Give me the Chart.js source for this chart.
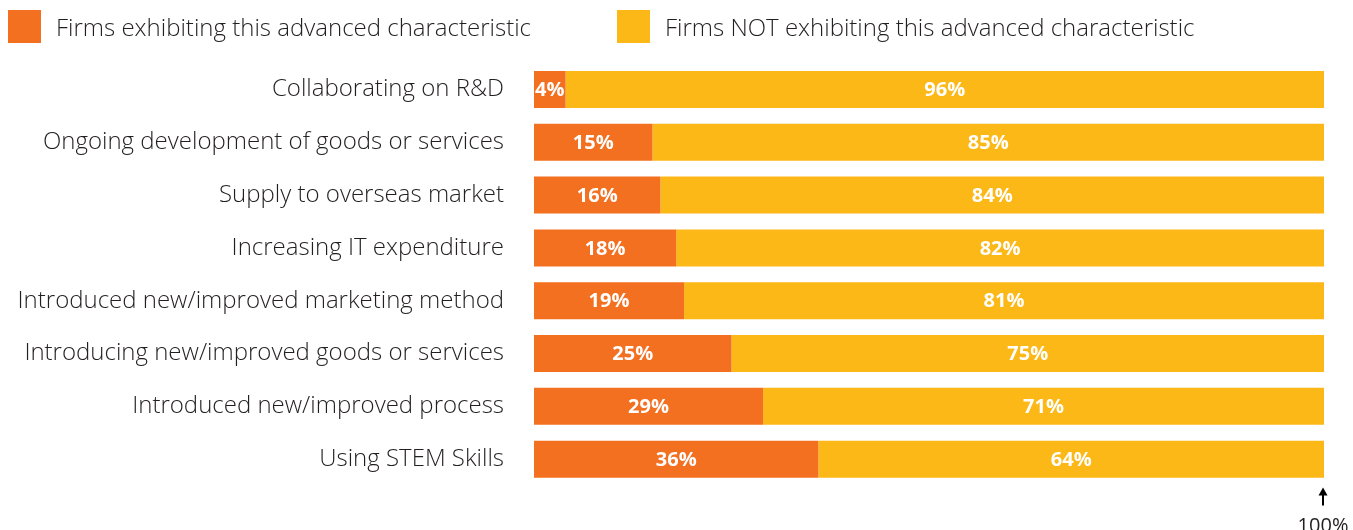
<!DOCTYPE html>
<html>
<head>
<meta charset="utf-8">
<script src="https://cdn.jsdelivr.net/npm/chart.js@4"></script>
<style>
  html, body { margin: 0; padding: 0; background: #fff; }
  #wrap { width: 1353px; height: 530px; }
</style>
</head>
<body>
<div id="wrap"><canvas id="chart" width="1353" height="530"></canvas></div>
<script>
// categories and values
var categories = [
  "Collaborating on R&D",
  "Ongoing development of goods or services",
  "Supply to overseas market",
  "Increasing IT expenditure",
  "Introduced new/improved marketing method",
  "Introducing new/improved goods or services",
  "Introduced new/improved process",
  "Using STEM Skills"
];
var exhibiting = [4, 15, 16, 18, 19, 25, 29, 36];
var notExhibiting = [96, 85, 84, 82, 81, 75, 71, 64];
var seriesNames = ["Firms exhibiting this advanced characteristic", "Firms NOT exhibiting this advanced characteristic"];
var endLabel = "100%";

var ORANGE = "#F37021";
var YELLOW = "#FBB817";
var TEXT = "#231F20";
var LABEL_FONT = "'Open Sans'";

// legend drawn by hand so the boxes sit where the original has them
var topLegend = {
  id: "topLegend",
  afterDraw: function (chart) {
    var ctx = chart.ctx;
    var xs = [8, 617];
    ctx.save();
    ctx.font = "300 24px " + LABEL_FONT;
    ctx.textBaseline = "middle";
    ctx.textAlign = "left";
    chart.data.datasets.forEach(function (ds, i) {
      ctx.fillStyle = ds.backgroundColor;
      ctx.fillRect(xs[i], 10, 33, 33);
      ctx.fillStyle = TEXT;
      ctx.fillText(ds.label, xs[i] + 48, 29);
    });
    ctx.restore();
  }
};

// white % labels in the middle of each bar
var barLabels = {
  id: "barLabels",
  afterDatasetsDraw: function (chart) {
    var ctx = chart.ctx;
    ctx.save();
    ctx.fillStyle = "#fff";
    ctx.font = "bold 20px " + LABEL_FONT;
    ctx.textAlign = "center";
    ctx.textBaseline = "middle";
    chart.data.datasets.forEach(function (ds, i) {
      chart.getDatasetMeta(i).data.forEach(function (bar, j) {
        var c = bar.getCenterPoint();
        ctx.fillText(ds.data[j] + "%", c.x, c.y + 1);
      });
    });
    ctx.restore();
  }
};

// arrow + 100% under the end of the scale
var endMarker = {
  id: "endMarker",
  afterDraw: function (chart) {
    var ctx = chart.ctx;
    var x = chart.scales.x.getPixelForValue(100) - 1;
    var y0 = chart.chartArea.bottom;
    ctx.save();
    ctx.strokeStyle = "#000";
    ctx.fillStyle = "#000";
    ctx.lineWidth = 2;
    ctx.beginPath();
    ctx.moveTo(x, y0 + 20);
    ctx.lineTo(x, y0 + 8);
    ctx.stroke();
    ctx.beginPath();
    ctx.moveTo(x - 4.5, y0 + 10);
    ctx.lineTo(x + 4.5, y0 + 10);
    ctx.lineTo(x, y0 + 2);
    ctx.closePath();
    ctx.fill();
    ctx.font = "20px " + LABEL_FONT;
    ctx.textAlign = "center";
    ctx.textBaseline = "alphabetic";
    ctx.fillStyle = TEXT;
    ctx.fillText(endLabel, x, y0 + 46);
    ctx.restore();
  }
};

var ctx = document.getElementById("chart").getContext("2d");
var myChart = new Chart(ctx, {
  type: "bar",
  data: {
    labels: categories,
    datasets: [{
      label: seriesNames[0],
      data: exhibiting,
      backgroundColor: ORANGE,
      categoryPercentage: 0.7,
      barPercentage: 1.0
    }, {
      label: seriesNames[1],
      data: notExhibiting,
      backgroundColor: YELLOW,
      categoryPercentage: 0.7,
      barPercentage: 1.0
    }]
  },
  options: {
    indexAxis: "y",
    responsive: false,
    animation: false,
    layout: {
      padding: { left: 0, right: 29, top: 63, bottom: 44 }
    },
    scales: {
      x: {
        stacked: true,
        min: 0,
        max: 100,
        display: false
      },
      y: {
        stacked: true,
        grid: { display: false, drawTicks: false },
        border: { display: false },
        ticks: {
          color: TEXT,
          padding: 30,
          font: { family: LABEL_FONT, size: 24, weight: "300" }
        },
        afterFit: function (scale) {
          scale.width = 534;
        }
      }
    },
    plugins: {
      legend: { display: false },
      tooltip: { enabled: false }
    }
  },
  plugins: [barLabels, endMarker, topLegend]
});
</script>
</body>
</html>
